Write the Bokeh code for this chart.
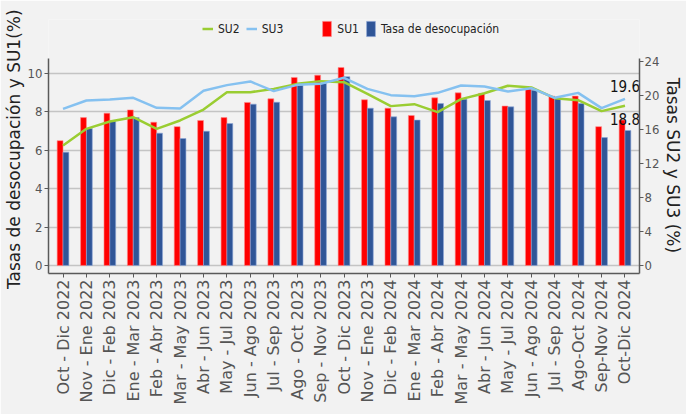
from math import pi
from bokeh.plotting import figure
from bokeh.models import (Range1d, LinearAxis, FixedTicker, Legend, LegendItem,
                          ColumnDataSource)
from bokeh.transform import dodge
from bokeh.core.properties import value
from bokeh.embed import file_html
from bokeh.resources import INLINE

categories = ["Oct - Dic 2022", "Nov - Ene 2022", "Dic - Feb 2023", "Ene - Mar 2023",
              "Feb - Abr 2023", "Mar - May 2023", "Abr - Jun 2023", "May - Jul 2023",
              "Jun - Ago 2023", "Jul - Sep 2023", "Ago - Oct 2023", "Sep - Nov 2023",
              "Oct - Dic 2023", "Nov - Ene 2023", "Dic - Feb 2024", "Ene - Mar 2024",
              "Feb - Abr 2024", "Mar - May 2024", "Abr - Jun 2024", "May - Jul 2024",
              "Jun - Ago 2024", "Jul - Sep 2024", "Ago-Oct 2024", "Sep-Nov 2024",
              "Oct-Dic 2024"]
su1 = [6.50, 7.70, 7.93, 8.10, 7.46, 7.23, 7.55, 7.70, 8.49, 8.68, 9.79, 9.91,
       10.31, 8.63, 8.19, 7.81, 8.73, 8.99, 8.96, 8.30, 9.22, 8.82, 8.82, 7.23, 7.57]
tasa = [5.90, 7.13, 7.51, 7.70, 6.89, 6.61, 6.99, 7.39, 8.40, 8.50, 9.39, 9.48,
        9.83, 8.19, 7.74, 7.57, 8.43, 8.66, 8.59, 8.26, 9.13, 8.75, 8.43, 6.66, 7.03]
su2 = [14.12, 16.08, 16.94, 17.45, 16.08, 17.06, 18.35, 20.39, 20.39, 20.78, 21.37,
       21.69, 21.57, 20.20, 18.75, 18.98, 18.04, 19.57, 20.27, 21.14, 20.94, 19.69,
       19.45, 18.16, 18.8]
su3 = [18.43, 19.41, 19.53, 19.73, 18.55, 18.47, 20.55, 21.22, 21.65, 20.51, 21.25,
       21.37, 22.08, 20.78, 20.04, 19.92, 20.31, 21.18, 21.06, 20.47, 20.86, 19.73,
       20.31, 18.51, 19.6]
left_ticks = [0, 2, 4, 6, 8, 10]
right_ticks = [0, 4, 8, 12, 16, 20, 24]

xs = list(range(len(categories)))
src = ColumnDataSource(dict(x=xs, su1=su1, tasa=tasa, su2=su2, su3=su3))

BG = "#f2f2f2"
AX = "#5a5a5a"
COND = value("DejaVu Sans Condensed")
NB = "\u00a0"

p = figure(width=686, height=414, output_backend="svg", toolbar_location=None,
           x_range=Range1d(-0.62, 24.62), y_range=Range1d(-0.42, 12.81),
           min_border_top=19, min_border_bottom=141, min_border_left=20,
           min_border_right=3, background_fill_color=BG, border_fill_color=BG,
           outline_line_color=None)
p.extra_y_ranges = {"right": Range1d(-0.94, 28.94)}

r1 = p.vbar(x=dodge("x", -0.125, range=p.x_range), top="su1", width=0.25, source=src,
            fill_color="#ff0000", line_color="#ff8a8a", line_width=0.6)
r2 = p.vbar(x=dodge("x", 0.125, range=p.x_range), top="tasa", width=0.25, source=src,
            fill_color="#2f5597", line_color="#8fa8d8", line_width=0.6)
l2 = p.line("x", "su2", source=src, y_range_name="right", line_color="#9acd32",
            line_width=2.5)
l3 = p.line("x", "su3", source=src, y_range_name="right", line_color="#85c1f0",
            line_width=2.5)
spacer = p.line(x=[0, 0], y=[0, 0], line_alpha=0)

p.text(x=[xs[-1]], y=[su3[-1]], text=[f"{su3[-1]:.1f}"], y_range_name="right",
       y_offset=-13, text_align="center", text_baseline="middle",
       text_font=COND, text_font_size="15px", text_color="#111111")
p.text(x=[xs[-1]], y=[su2[-1]], text=[f"{su2[-1]:.1f}"], y_range_name="right",
       y_offset=13, text_align="center", text_baseline="middle",
       text_font=COND, text_font_size="15px", text_color="#111111")

# axes
xa = p.xaxis[0]
xa.ticker = FixedTicker(ticks=xs)
xa.major_label_overrides = {i: c for i, c in enumerate(categories)}
xa.major_label_orientation = pi / 2
xa.major_label_text_font = "DejaVu Sans"
xa.major_label_text_font_size = "16px"
xa.major_label_text_color = "#555555"

ya = p.yaxis[0]
ya.ticker = FixedTicker(ticks=left_ticks)
ya.bounds = (-0.42, 10.78)
ya.axis_label = "Tasas de desocupación y SU1(%)" + NB

ra = LinearAxis(y_range_name="right", ticker=FixedTicker(ticks=right_ticks),
                bounds=(-0.94, 24.35), axis_label=NB * 7 + "Tasas SU2 y SU3 (%)")
p.add_layout(ra, "right")

for ax in (xa, ya, ra):
    ax.axis_line_color = AX
    ax.axis_line_width = 1.5
    ax.major_tick_line_color = AX
    ax.major_tick_out = 4
    ax.major_tick_in = 0
    ax.minor_tick_line_color = None
    ax.major_label_standoff = 2
for ax in (ya, ra):
    ax.major_label_text_font = "DejaVu Sans Condensed"
    ax.major_label_text_font_size = "13px"
    ax.major_label_text_color = "#555555"
    ax.axis_label_text_font = "DejaVu Sans"
    ax.axis_label_text_font_size = "17px"
    ax.axis_label_text_font_style = "normal"
    ax.axis_label_text_color = "#222222"
    ax.axis_label_standoff = 1
ra.major_label_standoff = 1

p.xgrid.visible = False
p.ygrid.ticker = FixedTicker(ticks=left_ticks)
p.ygrid.grid_line_color = "#c4c4c4"
p.ygrid.grid_line_width = 1.5

leg = Legend(items=[LegendItem(label="SU2", renderers=[l2]),
                    LegendItem(label="SU3", renderers=[l3]),
                    LegendItem(label="", renderers=[spacer]),
                    LegendItem(label="SU1", renderers=[r1]),
                    LegendItem(label="Tasa de desocupación", renderers=[r2])],
             orientation="horizontal", location=(154, 235), padding=0, margin=0,
             spacing=6, label_standoff=5, glyph_width=11, glyph_height=19,
             label_width=10, border_line_color=None, background_fill_alpha=0,
             label_text_font="DejaVu Sans Condensed", label_text_font_size="12px",
             label_text_color="#222222")
p.add_layout(leg)

open("out.html", "w").write(file_html(p, INLINE))
